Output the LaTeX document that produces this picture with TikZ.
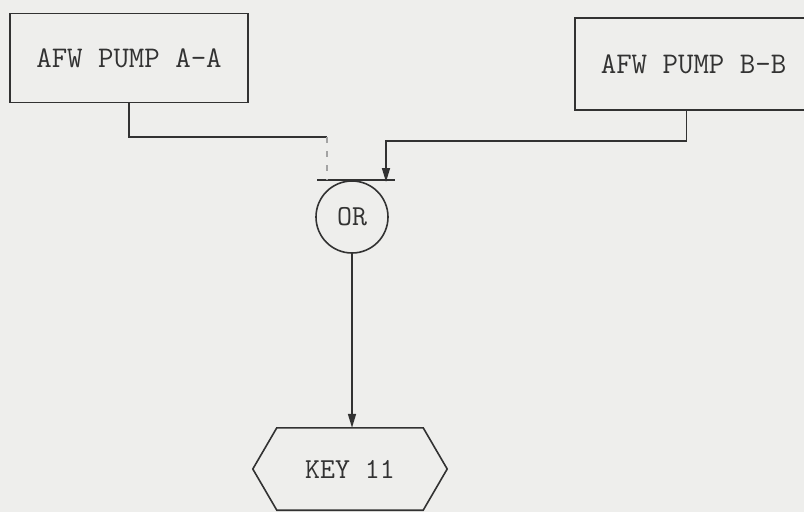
\documentclass[tikz,border=0pt]{standalone}
\usetikzlibrary{arrows.meta}
\definecolor{paper}{RGB}{238,238,236}
\definecolor{ink}{RGB}{50,50,50}
\begin{document}
\begin{tikzpicture}[x=1pt,y=-1pt,
  line/.style={draw=ink, line width=1.6pt},
  faint/.style={draw=ink!45, line width=1.2pt, dash pattern=on 6pt off 8pt},
  arr/.style={-{Triangle[length=14pt,width=8pt]}},
  pumpbox/.style={draw=ink, line width=1.6pt, font=\ttfamily\fontsize{30}{34}\selectfont, text=ink, inner sep=0pt},
  gate/.style={circle, draw=ink, line width=1.6pt, minimum size=72pt, inner sep=0pt, font=\ttfamily\fontsize{29}{33}\selectfont, text=ink},
  keylabel/.style={inner sep=0pt, minimum width=146pt, minimum height=82pt, font=\ttfamily\fontsize{29}{33}\selectfont, text=ink}]
\fill[paper] (0,0) rectangle (804,512);
\useasboundingbox (0,0) rectangle (804,512);
% pump boxes
\node[pumpbox, minimum width=238pt, minimum height=89pt] (a) at (129,58) {AFW PUMP A-A};
\node[pumpbox, minimum width=237pt, minimum height=92pt] (b) at (693.5,64) {AFW PUMP B-B};
% OR gate
\node[gate] (or) at (352,217) {OR};
\draw[line] ([xshift=-35pt]or.north) -- ([xshift=43pt]or.north);
% key hexagon
\node[keylabel] (k) at (350,469) {KEY 11};
\draw[line] (k.north west) -- (k.north east) -- ([xshift=24pt]k.east) -- (k.south east) -- (k.south west) -- ([xshift=-24pt]k.west) -- cycle;
% junction points
\coordinate (jl) at (327,137);
\coordinate (jr1) at (386,141);
\coordinate (jr) at (386,182);
% connectors
\draw[line] (a.south) |- (jl);
\draw[faint] (jl) -- (jl |- or.north);
\draw[line, arr] ([xshift=-7pt]b.south) |- (jr1) -- (jr);
\draw[line, arr] (or.south) -- (or.south |- k.north);
\end{tikzpicture}
\end{document}
